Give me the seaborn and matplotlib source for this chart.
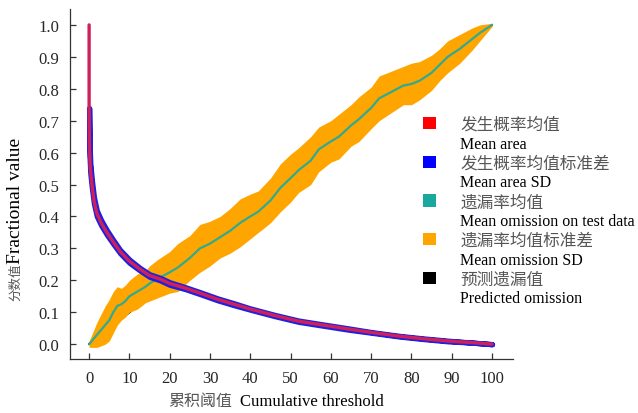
import matplotlib
matplotlib.use("Agg")
import matplotlib.pyplot as plt
from matplotlib.patches import Patch
import seaborn as sns
import pandas as pd

# mean area (fraction of area predicted present)
area_x = [0, 0, 0.1, 0.3, 0.7, 1.2, 1.9, 3, 4.4, 6, 7.7, 10, 12.6, 15, 17.6, 20,
          24, 27.5, 32, 36, 40, 46, 52, 58, 64.6, 70, 77, 83, 89, 95, 100]
area_mean = [1.0, 0.74, 0.61, 0.55, 0.50, 0.45, 0.41, 0.38, 0.35, 0.32, 0.29, 0.26,
             0.235, 0.215, 0.204, 0.19, 0.175, 0.16, 0.14, 0.125, 0.11, 0.09, 0.072,
             0.06, 0.047, 0.037, 0.025, 0.017, 0.01, 0.005, 0.0]
area_sd = [0, 0.0, 0.02, 0.015, 0.012, 0.01, 0.009, 0.008, 0.007, 0.006, 0.005, 0.005,
           0.004, 0.004, 0.004, 0.004, 0.003, 0.003, 0.003, 0.003, 0.002, 0.002, 0.002,
           0.002, 0.002, 0.001, 0.001, 0.001, 0.001, 0.0, 0.0]

# mean omission on test data
om_x = [0, 2, 4, 5, 6, 7, 8, 9, 10, 12, 14, 15, 17, 20, 22, 25, 27.5, 30, 32.5, 35,
        37.5, 40, 42, 45, 47.5, 50, 52, 55, 57, 60, 62, 65, 67, 70, 72, 75, 78, 80,
        82, 85, 87, 89, 92, 95, 97, 100]
om_mean = [0.0, 0.03, 0.06, 0.075, 0.10, 0.12, 0.125, 0.135, 0.15, 0.165, 0.18, 0.19,
           0.205, 0.225, 0.24, 0.27, 0.30, 0.315, 0.335, 0.355, 0.38, 0.40, 0.415,
           0.45, 0.49, 0.52, 0.545, 0.575, 0.61, 0.635, 0.65, 0.685, 0.705, 0.74,
           0.77, 0.79, 0.81, 0.815, 0.825, 0.85, 0.875, 0.90, 0.925, 0.955, 0.975, 1.0]
om_sd = [0.01, 0.04, 0.06, 0.065, 0.065, 0.06, 0.05, 0.05, 0.05, 0.055, 0.05, 0.055,
         0.06, 0.065, 0.075, 0.07, 0.075, 0.07, 0.065, 0.07, 0.075, 0.07, 0.065, 0.07,
         0.075, 0.075, 0.07, 0.075, 0.07, 0.065, 0.07, 0.065, 0.07, 0.065, 0.07,
         0.065, 0.06, 0.065, 0.06, 0.055, 0.05, 0.05, 0.045, 0.035, 0.025, 0.005]

# predicted omission
pred_x = [0, 100]
pred_y = [0.0, 1.0]

cn_labels = ["发生概率均值", "发生概率均值标准差", "遗漏率均值", "遗漏率均值标准差", "预测遗漏值"]
en_labels = ["Mean area", "Mean area SD", "Mean omission on test data",
             "Mean omission SD", "Predicted omission"]
legend_colors = ["#ff0000", "#0000ff", "#1aa7a0", "#ffa500", "#000000"]

sns.set_style("ticks")
plt.rcParams['font.family'] = ['Liberation Serif', 'Noto Sans CJK SC']
SERIF = ['Liberation Serif', 'Noto Sans CJK SC']
CJK = ['Noto Sans CJK SC', 'Liberation Serif']

fig = plt.figure(figsize=(6.38, 4.14), dpi=100)
ax = fig.add_axes([0.110, 0.130, 0.694, 0.846])

area = pd.DataFrame({"x": area_x, "mean": area_mean, "sd": area_sd})
om = pd.DataFrame({"x": om_x, "mean": om_mean, "sd": om_sd})

# predicted omission sits underneath the orange band
sns.lineplot(x=pred_x, y=pred_y, ax=ax, color="black", lw=1.6, zorder=1)

ax.fill_between(om["x"], om["mean"] - om["sd"], om["mean"] + om["sd"],
                color="#ffa500", lw=0, zorder=2)
sns.lineplot(data=om, x="x", y="mean", ax=ax, color="#30aa90", lw=1.6,
             estimator=None, sort=False, zorder=3)

a = area.iloc[1:]
ax.fill_between(a["x"], a["mean"] - a["sd"], a["mean"] + a["sd"],
                facecolor="#2020e0", edgecolor="#2020e0", lw=3.8, zorder=4)
sns.lineplot(data=area, x="x", y="mean", ax=ax, color="#d0205a", lw=2.4,
             estimator=None, sort=False, zorder=5)

ax.set_xlim(-4.7, 105.2)
ax.set_ylim(-0.047, 1.05)
ax.set_xticks(range(0, 101, 10))
ax.set_yticks([i / 10 for i in range(11)])
ax.set_yticklabels([f"{i / 10:.1f}" for i in range(11)])
ax.tick_params(direction="in", length=4, width=0.9, labelsize=12, pad=8,
               color="#333333")
for lab in ax.get_xticklabels() + ax.get_yticklabels():
    lab.set_fontfamily(SERIF)
sns.despine(ax=ax)
for s in ["left", "bottom"]:
    ax.spines[s].set_color("#333333")
    ax.spines[s].set_linewidth(0.9)
ax.set_xlabel("")
ax.set_ylabel("")

# axis titles: Chinese in grey, English in black
fig.text(168 / 638, 1 - 402 / 414, "累积阈值", family=CJK, color="#555555",
         fontsize=11.5, va="center", ha="left")
fig.text(240 / 638, 1 - 402 / 414, "Cumulative threshold", family=SERIF,
         color="black", fontsize=12, va="center", ha="left")
fig.text(16 / 638, 1 - 301 / 414, "分数值", family=CJK, color="#555555",
         fontsize=9, rotation=90, va="bottom", ha="center")
fig.text(16 / 638, 1 - 264 / 414, "Fractional value", family=SERIF,
         color="black", fontsize=14, rotation=90, va="bottom", ha="center")

# legend: Chinese row with colour square, English row underneath
handles, labels = [], []
for cn, en, c in zip(cn_labels, en_labels, legend_colors):
    handles.append(Patch(facecolor=c, edgecolor="none"))
    labels.append(cn)
    handles.append(Patch(facecolor="none", edgecolor="none"))
    labels.append(en)
leg = fig.legend(handles, labels, loc="upper left",
                 bbox_to_anchor=(423 / 638, 1 - 117 / 414), frameon=False,
                 handlelength=0.75, handleheight=0.75, handletextpad=1.5,
                 labelspacing=0.17, borderpad=0, borderaxespad=0, fontsize=12)
for i, t in enumerate(leg.get_texts()):
    if i % 2 == 0:
        t.set_fontfamily(CJK)
        t.set_color("#555555")
    else:
        t.set_fontfamily(SERIF)
        t.set_color("black")
        t.set_fontsize(11.5)

fig.savefig("out.png", dpi=100)
